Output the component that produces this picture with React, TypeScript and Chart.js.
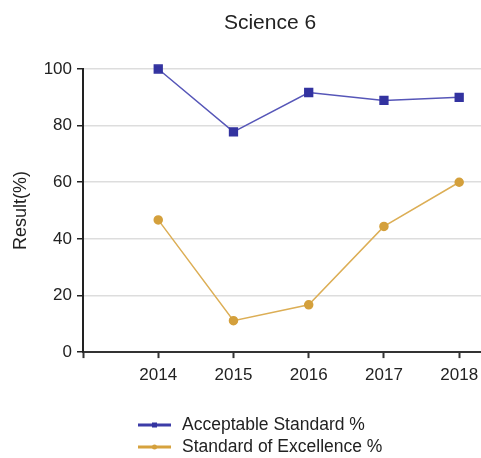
import React, { useEffect, useRef } from "react";
import { Chart, registerables } from "chart.js";

Chart.register(...registerables);

const TITLE = "Science 6";
const Y_TITLE = "Result(%)";
const YEARS = [2014, 2015, 2016, 2017, 2018];
const ACCEPTABLE = [100, 77.8, 91.7, 88.9, 90.0];
const EXCELLENCE = [46.7, 11.1, 16.7, 44.4, 60.0];
const SERIES_NAMES = ["Acceptable Standard %", "Standard of Excellence %"];
const Y_MIN = 0;
const Y_MAX = 100;
const Y_STEP = 20;

const FONT = "'Liberation Sans', Arial, sans-serif";
const TEXT = "#222222";
const BLUE_LINE = "#5656b8";
const BLUE_MARK = "#3333a0";
const GOLD_LINE = "#dcae55";
const GOLD_MARK = "#d4a03c";

const decorPlugin = {
  id: "decor",
  afterDraw(chart: any) {
    const ctx = chart.ctx as CanvasRenderingContext2D;
    ctx.save();
    // title
    ctx.fillStyle = TEXT;
    ctx.font = `21px ${FONT}`;
    ctx.textAlign = "center";
    ctx.textBaseline = "middle";
    ctx.fillText(TITLE, 270, 23);
    // legend
    const rows = [
      { name: SERIES_NAMES[0], line: "#3c3ca8", mark: BLUE_MARK, style: "rect", y: 425 },
      { name: SERIES_NAMES[1], line: "#d6a23e", mark: GOLD_MARK, style: "circle", y: 447 },
    ];
    ctx.font = `17.5px ${FONT}`;
    ctx.textAlign = "left";
    for (const r of rows) {
      ctx.strokeStyle = r.line;
      ctx.lineWidth = 3;
      ctx.beginPath();
      ctx.moveTo(138, r.y);
      ctx.lineTo(171, r.y);
      ctx.stroke();
      ctx.fillStyle = r.mark;
      if (r.style === "rect") {
        ctx.fillRect(152, r.y - 2.5, 5, 5);
      } else {
        ctx.beginPath();
        ctx.arc(154.5, r.y, 2.5, 0, Math.PI * 2);
        ctx.fill();
      }
      ctx.fillStyle = TEXT;
      ctx.fillText(r.name, 182, r.y);
    }
    ctx.restore();
  },
};

export default function App() {
  const ref = useRef<HTMLCanvasElement | null>(null);
  useEffect(() => {
    if (!ref.current) return;
    const chart = new Chart(ref.current, {
      type: "line",
      data: {
        datasets: [
          {
            label: SERIES_NAMES[0],
            data: YEARS.map((x, i) => ({ x, y: ACCEPTABLE[i] })),
            borderColor: BLUE_LINE,
            backgroundColor: BLUE_MARK,
            pointBackgroundColor: BLUE_MARK,
            pointBorderColor: BLUE_MARK,
            pointStyle: "rect",
            pointRadius: 5.5,
            borderWidth: 1.5,
            tension: 0,
            clip: false,
          },
          {
            label: SERIES_NAMES[1],
            data: YEARS.map((x, i) => ({ x, y: EXCELLENCE[i] })),
            borderColor: GOLD_LINE,
            backgroundColor: GOLD_MARK,
            pointBackgroundColor: GOLD_MARK,
            pointBorderColor: GOLD_MARK,
            pointStyle: "circle",
            pointRadius: 4,
            borderWidth: 1.5,
            tension: 0,
            clip: false,
          },
        ],
      },
      options: {
        responsive: false,
        animation: false,
        layout: { autoPadding: false, padding: { top: 69, bottom: 65.5, left: 0, right: 0 } },
        plugins: {
          legend: { display: false },
          title: { display: false },
          tooltip: { enabled: false },
        },
        scales: {
          x: {
            type: "linear",
            min: YEARS[0] - 1,
            max: YEARS[YEARS.length - 1] + 0.29,
            ticks: {
              stepSize: 1,
              includeBounds: false,
              autoSkip: false,
              maxRotation: 0,
              padding: 7,
              color: TEXT,
              font: { family: FONT, size: 17 },
              callback: (v: any) => (YEARS.includes(Number(v)) ? String(v) : ""),
            },
            grid: {
              drawOnChartArea: false,
              drawTicks: true,
              tickLength: 6,
              tickColor: "#333",
              tickWidth: 2,
            },
            border: { color: "#333", width: 2 },
            afterFit: (s: any) => {
              s.paddingLeft = 0;
              s.paddingRight = 0;
            },
          },
          y: {
            min: Y_MIN,
            max: Y_MAX,
            ticks: {
              stepSize: Y_STEP,
              padding: 5,
              color: TEXT,
              font: { family: FONT, size: 17 },
            },
            grid: {
              color: "#dddddd",
              lineWidth: 1.5,
              tickLength: 6,
              tickColor: "#222",
              tickWidth: 1.5,
            },
            border: { color: "#222", width: 2 },
            title: {
              display: true,
              text: Y_TITLE,
              color: TEXT,
              font: { family: FONT, size: 18 },
              padding: { top: 10, bottom: 0 },
            },
            afterFit: (s: any) => {
              s.width = 83;
            },
          },
        },
      },
      plugins: [decorPlugin],
    });
    return () => chart.destroy();
  }, []);
  return (
    <div style={{ position: "fixed", left: 0, top: 0, width: 481, height: 458, background: "#fff" }}>
      <canvas ref={ref} width={481} height={458} />
    </div>
  );
}
